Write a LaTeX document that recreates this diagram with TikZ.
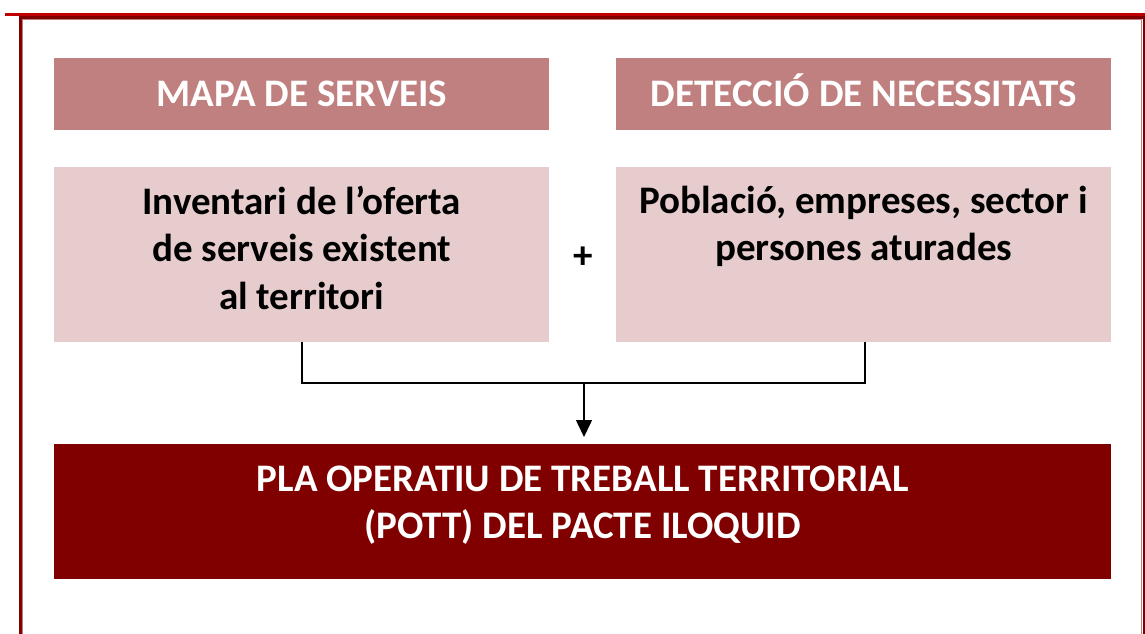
\documentclass[tikz,border=0pt]{standalone}
\usepackage{fontspec}
\setmainfont{Carlito}
\usetikzlibrary{arrows.meta}
\definecolor{framered}{RGB}{128,0,0}
\definecolor{topred}{RGB}{192,0,0}
\definecolor{headfill}{RGB}{192,128,127}
\definecolor{bodyfill}{RGB}{230,204,204}
\definecolor{darkfill}{RGB}{128,0,0}
\tikzset{
  bigfont/.style={font=\fontsize{39}{47.5}\selectfont\bfseries},
  headbox/.style={fill=headfill, draw=none, minimum width=495pt, minimum height=72pt, anchor=north west, inner sep=0pt,
    text=white, bigfont, text height=25pt, text depth=0pt},
  bodybox/.style={fill=bodyfill, draw=none, minimum width=495pt, minimum height=175pt, anchor=north west, inner sep=0pt},
  bodytext/.style={anchor=north, align=center, inner sep=0pt, bigfont},
  finalbox/.style={fill=darkfill, draw=none, minimum width=1057pt, minimum height=135pt, anchor=north west, inner sep=0pt},
  finaltext/.style={anchor=north, align=center, inner sep=0pt, text=white, bigfont},
  conn/.style={draw=black, line width=1.5pt},
}
\begin{document}
\begin{tikzpicture}[x=1pt,y=-1pt]
\useasboundingbox (0,0) rectangle (1145,633);
% frame
\draw[topred, line width=3pt] (5,14.5) -- (1145,14.5);
\draw[framered, line width=3pt] (20.5,640) -- (20.5,17.5) -- (1144,17.5) -- (1144,640);
\draw[headfill, line width=0.8pt] (22.8,640) -- (22.8,19.8) -- (1141.6,19.8) -- (1141.6,640);
% header boxes
\node[headbox] (h1) at (54,58) {MAPA DE SERVEIS};
\node[headbox] (h2) at (616,58) {DETECCIÓ DE NECESSITATS};
% body boxes
\node[bodybox] (b1) at (54,167) {};
\node[bodybox] (b2) at (616,167) {};
\node[bodytext] (t1) at ([yshift=-18.5pt]b1.north) {Inventari de l’oferta\\de serveis existent\\al territori};
\node[bodytext] (t2) at ([yshift=-18.5pt]b2.north) {Població, empreses, sector i\\persones aturades};
\node[bigfont, inner sep=0pt] (plus) at (583,258) {+};
% final box
\node[finalbox] (f) at (54,444) {};
\node[finaltext] (ft) at ([yshift=-21.5pt]f.north) {PLA OPERATIU DE TREBALL TERRITORIAL\\(POTT) DEL PACTE ILOQUID};
% connectors
\coordinate (j) at (584,383);
\coordinate (tip) at (584,437);
\draw[conn] (b1.south -| 302,0) |- (j);
\draw[conn] (b2.south -| 865,0) |- (j);
\draw[conn, -{Triangle[length=17pt,width=16pt]}] (j) -- (tip);
\end{tikzpicture}
\end{document}
